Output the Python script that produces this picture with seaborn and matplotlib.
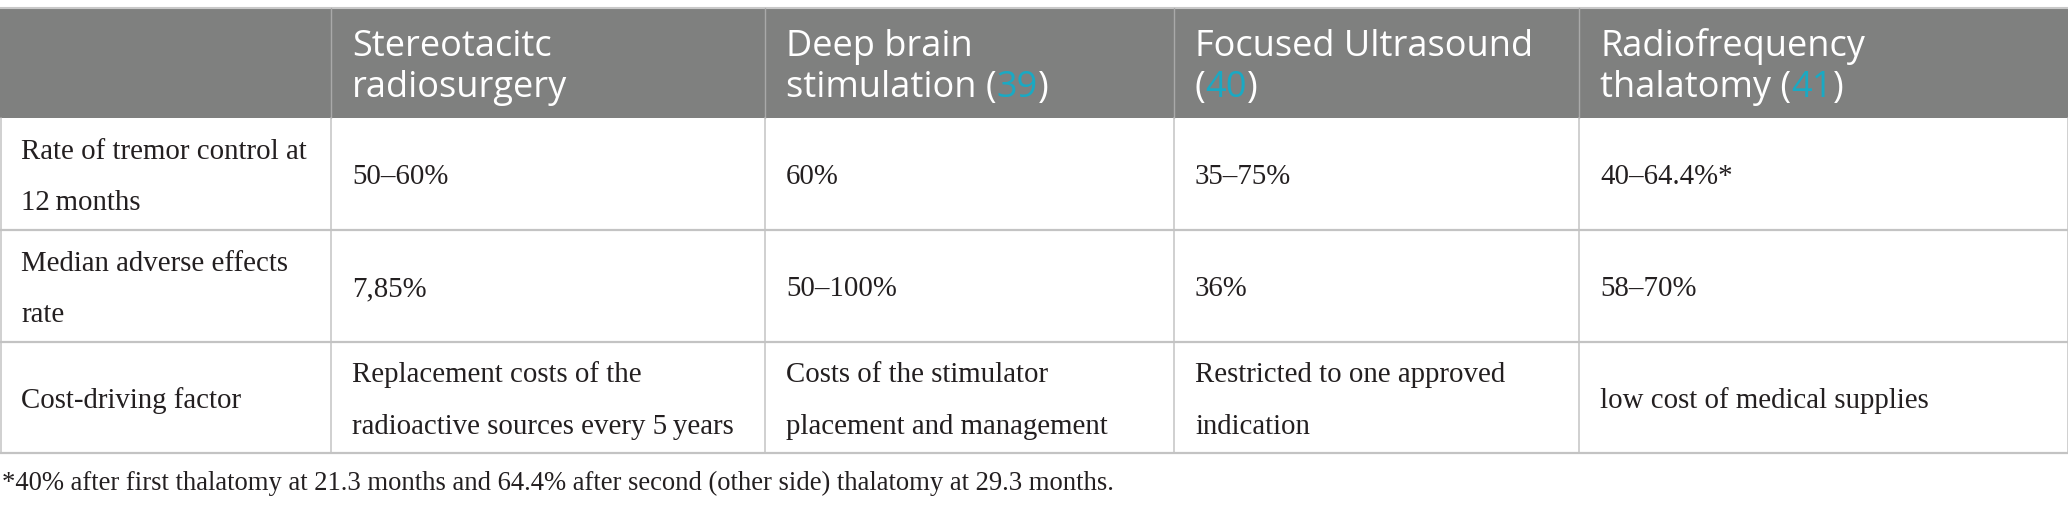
import re
import matplotlib
matplotlib.use("Agg")
import matplotlib.pyplot as plt
import seaborn as sns

# table content
methods = ["Stereotacitc\nradiosurgery",
           "Deep brain\nstimulation (39)",
           "Focused Ultrasound\n(40)",
           "Radiofrequency\nthalatomy (41)"]
row_labels = ["Rate of tremor control at\n12\u2009months",
              "Median adverse effects\nrate",
              "Cost-driving factor"]
tremor_control = ["50\u201360%", "60%", "35\u201375%", "40\u201364.4%*"]
adverse_rate = ["7,85%", "50\u2013100%", "36%", "58\u201370%"]
cost_factor = ["Replacement costs of the\nradioactive sources every 5\u2009years",
               "Costs of the stimulator\nplacement and management",
               "Restricted to one approved\nindication",
               "low cost of medical supplies"]
footnote = ("*40% after first thalatomy at 21.3 months and 64.4% after second "
            "(other side) thalatomy at 29.3 months.")

# layout (pixels)
col_edges = [0, 331, 765, 1174, 1579, 2068]
row_edges = [8, 118, 230, 342, 453]
pad = 21

HEAD_BG = "#7f807f"
CITE = "#1aa9c3"
GRID = "#c3c3c3"
INK = "#231f20"

sns.set_theme(style="white")
serif = ["Liberation Serif", "DejaVu Serif"]
sans = ["Open Sans", "DejaVu Sans"]

fig = plt.figure(figsize=(20.68, 5.11), dpi=100)
ax = fig.add_axes([0, 0, 1, 1])
ax.set_xlim(0, 2068)
ax.set_ylim(511, 0)
ax.axis("off")
renderer = fig.canvas.get_renderer()

# header band
ax.add_patch(plt.Rectangle((col_edges[0], row_edges[0]), col_edges[-1] - col_edges[0],
                           row_edges[1] - row_edges[0], color=HEAD_BG, lw=0, zorder=0))
ax.plot([0, 2068], [row_edges[0], row_edges[0]], color="#c8c8c8", lw=1.5)
for x in col_edges[1:-1]:
    ax.plot([x, x], [row_edges[0], row_edges[1]], color="#a9a9a9", lw=1.0)


def colored_line(x, y, line):
    # white text with cyan citation numbers
    parts = re.split(r"(?<=\()(\d+)(?=\))", line)
    for i, part in enumerate(parts):
        if not part:
            continue
        t = ax.text(x, y, part, color=CITE if i % 2 else "white", fontsize=26,
                    family=sans, va="baseline", ha="left")
        x += t.get_window_extent(renderer).width


for j, name in enumerate(methods):
    for k, line in enumerate(name.split("\n")):
        colored_line(col_edges[j + 1] + pad, 56 + 41 * k, line)

# body
body = [[row_labels[i]] + vals for i, vals in enumerate([tremor_control, adverse_rate, cost_factor])]
for i, row in enumerate(body):
    c = (row_edges[i + 1] + row_edges[i + 2]) / 2 + 10.5
    for j, cell in enumerate(row):
        lines = cell.split("\n")
        start = c - 25.5 * (len(lines) - 1)
        for k, line in enumerate(lines):
            ax.text(col_edges[j] + pad, start + 51 * k, line, fontsize=20.8,
                    family=serif, color=INK, va="baseline", ha="left")

# grid
for y in row_edges[2:]:
    ax.plot([0, 2068], [y, y], color=GRID, lw=1.6)
for x in col_edges:
    ax.plot([x + 0.5 if x == 0 else x - 0.5 if x == 2068 else x] * 2,
            [row_edges[1], row_edges[-1]], color=GRID, lw=1.1)

ax.text(2, 490, footnote, fontsize=19.2, family=serif, color=INK,
        va="baseline", ha="left")

fig.savefig("out.png", dpi=100)
